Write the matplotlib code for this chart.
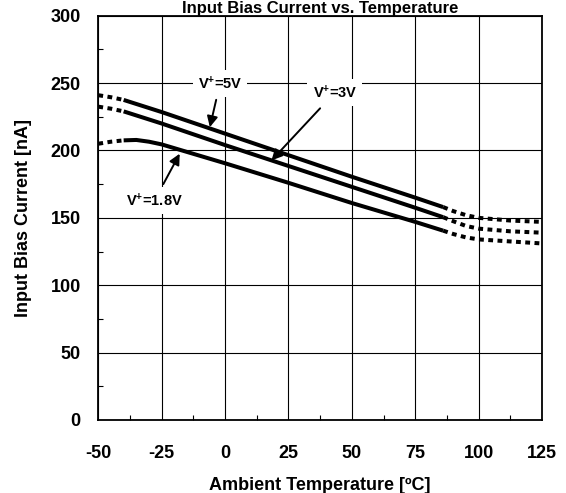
import matplotlib
matplotlib.use("Agg")
import matplotlib.pyplot as plt

plt.rcParams['font.family'] = ['Liberation Sans', 'DejaVu Sans']
plt.rcParams['font.weight'] = 'bold'
plt.rcParams['mathtext.default'] = 'regular'
plt.rcParams['axes.unicode_minus'] = False

# ---- data ----
temp_solid = [-40, -35, -30, -25, 0, 25, 50, 75, 86]
i5_solid = [237.5, 234.5, 231.5, 228.5, 212.5, 196.5, 180.5, 165, 158]
i3_solid = [229, 226, 223, 220, 204, 188.5, 173, 157.5, 150.5]
i18_solid = [207.5, 207.8, 206.5, 204.5, 190.5, 176, 161, 147, 140.5]

temp_left = [-50, -45, -40]
i5_left = [241, 239.5, 237.5]
i3_left = [232.5, 231, 229]
i18_left = [205, 206.5, 207.5]

temp_right = [86, 90, 95, 100, 112.5, 125]
i5_right = [158, 155, 152, 150, 148, 147]
i3_right = [150.5, 147.5, 144, 142, 140, 139]
i18_right = [140.5, 138, 135.5, 134, 132.5, 131]

x_ticks = [-50, -25, 0, 25, 50, 75, 100, 125]
y_ticks = [0, 50, 100, 150, 200, 250, 300]

labels = ['V$^{+}$=5V', 'V$^{+}$=3V', 'V$^{+}$=1.8V']

# ---- figure ----
fig = plt.figure(figsize=(5.66, 4.93), dpi=100)
ax = fig.add_axes([98.3/566, 1-420/493, (542-98.3)/566, (420-15.7)/493])

lw = 2.9
dash = (0, (1.2, 1.1))
for ys, yl, yr in [(i5_solid, i5_left, i5_right),
                   (i3_solid, i3_left, i3_right),
                   (i18_solid, i18_left, i18_right)]:
    ax.plot(temp_solid, ys, color='black', lw=lw, solid_capstyle='butt', zorder=3)
    ax.plot(temp_left, yl, color='black', lw=lw, linestyle=dash, zorder=3)
    ax.plot(temp_right, yr, color='black', lw=lw, linestyle=dash, zorder=3)

ax.set_xlim(-50, 125)
ax.set_ylim(0, 300)
ax.set_xticks(x_ticks)
ax.set_yticks(y_ticks)
ax.set_xticks([-37.5, -12.5, 12.5, 37.5, 62.5, 87.5, 112.5], minor=True)
ax.set_yticks([25, 75, 125, 175, 225, 275], minor=True)
ax.grid(True, which='major', color='black', lw=0.8, zorder=1)
ax.tick_params(which='major', length=0, labelsize=13)
ax.tick_params(axis='x', which='major', pad=18)
ax.tick_params(axis='y', which='major', pad=12.7)
ax.tick_params(which='minor', direction='in', length=3.6, width=0.8, color='black')
for s in ax.spines.values():
    s.set_linewidth(1.3)
    s.set_zorder(4)

ax.set_xlabel('Ambient Temperature [ºC]', fontsize=13, fontweight='bold', labelpad=11)
ax.set_ylabel('Input Bias Current [nA]', fontsize=13, fontweight='bold', labelpad=13)

fig.text(320/566, 1-12.5/493, 'Input Bias Current vs. Temperature', ha='center',
         va='baseline', fontsize=12, fontweight='bold')

arrow = dict(arrowstyle='-|>', lw=1.4, color='black', mutation_scale=16,
             shrinkA=2, shrinkB=0)
bbox = dict(boxstyle='square,pad=0.35', fc='white', ec='none')
ax.annotate(labels[0], xy=(-6, 217.3), xytext=(-2, 249.8), ha='center', va='center',
            fontsize=10.5, fontweight='bold', bbox=bbox, arrowprops=arrow, zorder=5)
ax.annotate(labels[1], xy=(18.3, 192.6), xytext=(43.3, 243), ha='center', va='center',
            fontsize=10.5, fontweight='bold', bbox=bbox, arrowprops=arrow, zorder=5)
ax.annotate(labels[2], xy=(-17.9, 197.6), xytext=(-27.8, 163), ha='center', va='center',
            fontsize=10.5, fontweight='bold', bbox=bbox, arrowprops=arrow, zorder=5)

fig.savefig('out.png', dpi=100)
